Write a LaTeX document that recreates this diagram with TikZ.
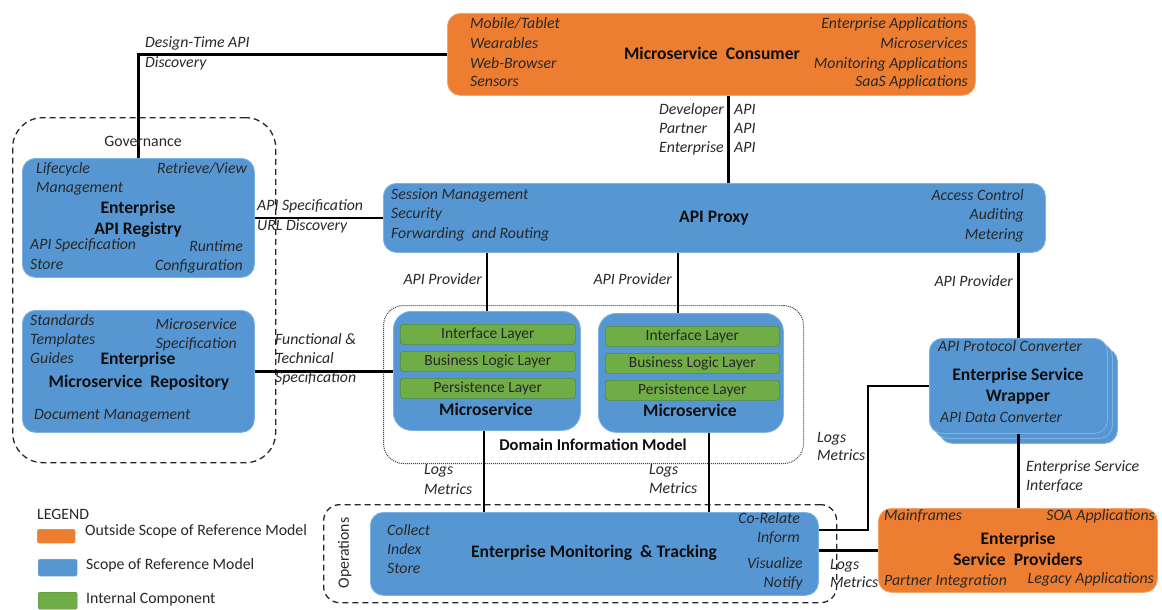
\documentclass[tikz,border=0pt]{standalone}
\usepackage{fontspec}
\setmainfont{Carlito}
\definecolor{orangeC}{RGB}{237,125,49}
\definecolor{orangeB}{RGB}{245,165,110}
\definecolor{blueC}{RGB}{86,151,211}
\definecolor{blueB}{RGB}{125,178,226}
\definecolor{greenC}{RGB}{112,173,71}
\definecolor{greenB}{RGB}{84,140,52}
\definecolor{txt}{RGB}{40,40,40}
\definecolor{ttxt}{RGB}{15,15,15}
\begin{document}
\begin{tikzpicture}[x=1pt,y=-1pt,
  obox/.style={draw=orangeB, line width=0.8pt, fill=orangeC, rounded corners=13pt, anchor=north west, inner sep=0pt},
  bbox/.style={draw=blueB, line width=0.8pt, fill=blueC, rounded corners=13pt, anchor=north west, inner sep=0pt},
  gbar/.style={draw=greenB, line width=0.6pt, fill=greenC, rounded corners=3pt, anchor=north west, inner sep=0pt,
     font=\fontsize{15.5}{17}\selectfont, text=txt, text height=10.5pt, text depth=3pt},
  grp/.style={draw=black!85, line width=1.3pt, dash pattern=on 6pt off 4pt, anchor=north west, inner sep=0pt},
  conn/.style={draw=black, line width=2.4pt},
  lab/.style={font=\fontsize{15.8}{19}\selectfont\itshape, text=txt, inner sep=0pt, text height=11pt, text depth=3.5pt},
  L/.style={lab, anchor=west},
  R/.style={lab, anchor=east},
  ttl/.style={font=\fontsize{17.6}{21}\selectfont\bfseries, text=ttxt, inner sep=0pt, text height=12pt, text depth=3.5pt},
  reg/.style={font=\fontsize{15.8}{19}\selectfont, text=txt, inner sep=0pt, text height=11pt, text depth=3.5pt},
]
\useasboundingbox (0,0) rectangle (1162,610);
\fill[white] (0,0) rectangle (1162,610);

% ---------- group boxes ----------
\node[grp, rounded corners=30pt, minimum width=263pt, minimum height=345pt] (gov) at (12,117) {};
\node[grp, rounded corners=16pt, minimum width=513pt, minimum height=98pt] (ops) at (323,504) {};
\node[draw=black!75, line width=1pt, densely dotted, rounded corners=20pt, anchor=north west, inner sep=0pt,
      minimum width=420pt, minimum height=158pt] (dom) at (383,305) {};

% ---------- main boxes ----------
\node[obox, minimum width=528pt, minimum height=82pt] (cons) at (447,13) {};
\node[bbox, minimum width=662pt, minimum height=69pt] (proxy) at (383,183) {};
\node[bbox, minimum width=232pt, minimum height=119pt] (reg) at (22,158) {};
\node[bbox, minimum width=232pt, minimum height=122pt] (repo) at (22,310) {};
\node[bbox, rounded corners=18pt, minimum width=187pt, minimum height=119pt] (ms1) at (393,311) {};
\node[bbox, rounded corners=18pt, minimum width=185pt, minimum height=119pt] (ms2) at (598,313) {};
\node[bbox, minimum width=448pt, minimum height=83pt] (mon) at (370,512) {};
\node[bbox, minimum width=178pt, minimum height=95pt] (eswb) at (939,348) {};
\node[bbox, minimum width=178pt, minimum height=95pt] (eswm) at (934,343) {};
\node[bbox, minimum width=178pt, minimum height=95pt] (esw) at (929,338) {};
\node[obox, minimum width=279pt, minimum height=84pt] (esp) at (878,508) {};

% ---------- green layers ----------
\node[gbar, minimum width=175pt, minimum height=20pt] (il1) at (400,324) {Interface Layer};
\node[gbar, minimum width=175pt, minimum height=20pt] (bl1) at (400,351) {Business Logic Layer};
\node[gbar, minimum width=175pt, minimum height=20pt] (pl1) at (400,378) {Persistence Layer};
\node[gbar, minimum width=174pt, minimum height=20pt] (il2) at (605,326) {Interface Layer};
\node[gbar, minimum width=174pt, minimum height=20pt] (bl2) at (605,353) {Business Logic Layer};
\node[gbar, minimum width=174pt, minimum height=20pt] (pl2) at (605,380) {Persistence Layer};

% ---------- connectors ----------
\coordinate (bend) at (868,0);
\draw[conn] (cons.west) -| (reg.north);
\draw[conn] ([xshift=17pt]cons.south) -- ([xshift=17pt]cons.south |- proxy.north);
\draw[conn] (reg.east) -- (reg.east -| proxy.west);
\draw[conn] (repo.east) -- (repo.east -| ms1.west);
\draw[conn] (ms1.north) -- (ms1.north |- proxy.south);
\draw[conn] ([xshift=-13pt]ms2.north) -- ([xshift=-13pt]ms2.north |- proxy.south);
\draw[conn] (esw.north) -- (esw.north |- proxy.south);
\draw[conn] ([xshift=-3pt]ms1.south) -- ([xshift=-3pt]ms1.south |- mon.north);
\draw[conn] ([xshift=18pt]ms2.south) -- ([xshift=18pt]ms2.south |- mon.north);
\draw[conn] (esw.south) -- (esw.south |- esp.north);
\draw[conn] ([yshift=24pt]mon.east) -| (bend |- esw.west) -- (esw.west);
\draw[conn] (esp.west -| mon.east) -- (esp.west);

% ---------- consumer ----------
\node[ttl] (consT) at (712,55) {Microservice\ \ Consumer};
\node[L] (c1) at (470,25) {Mobile/Tablet};
\node[L] (c2) at (470,45) {Wearables};
\node[L] (c3) at (470,65) {Web-Browser};
\node[L] (c4) at (470,83) {Sensors};
\node[R] (c5) at (968,25) {Enterprise Applications};
\node[R] (c6) at (968,45) {Microservices};
\node[R] (c7) at (968,65) {Monitoring Applications};
\node[R] (c8) at (968,83) {SaaS Applications};

\node[L] (d1) at (145,44) {Design-Time API};
\node[L] (d2) at (145,64) {Discovery};

\node[L] (k1) at (659,111) {Developer};
\node[L] (k2) at (659,130) {Partner};
\node[L] (k3) at (659,149) {Enterprise};
\node[L] (k4) at (734,111) {API};
\node[L] (k5) at (734,130) {API};
\node[L] (k6) at (734,149) {API};

% ---------- proxy ----------
\node[ttl] (proxyT) at (714,218) {API Proxy};
\node[L] (p1) at (391,196) {Session Management};
\node[L] (p2) at (391,215) {Security};
\node[L] (p3) at (391,235) {Forwarding\ \ and Routing};
\node[R] (p4) at (1024,197) {Access Control};
\node[R] (p5) at (1024,216) {Auditing};
\node[R] (p6) at (1024,236) {Metering};

% ---------- governance ----------
\node[reg] (govT) at (143,143) {Governance};
\node[L] (r1) at (36,170) {Lifecycle};
\node[L] (r2) at (36,189) {Management};
\node[R] (r3) at (247,170) {Retrieve/View};
\node[ttl] (regT1) at (138,209) {Enterprise};
\node[ttl] (regT2) at (138,230) {API Registry};
\node[L] (r4) at (30,246) {API Specification};
\node[L] (r5) at (30,266) {Store};
\node[R] (r6) at (243,248) {Runtime};
\node[R] (r7) at (243,267) {Configuration};

\node[L] (a1) at (257,207) {API Specification};
\node[L] (a2) at (257,227) {URL Discovery};

\node[L] (s1) at (30,322) {Standards};
\node[L] (s2) at (30,341) {Templates};
\node[L] (s3) at (30,360) {Guides};
\node[R] (s4) at (237,326) {Microservice};
\node[R] (s5) at (237,345) {Specification};
\node[ttl] (repoT1) at (138,360) {Enterprise};
\node[ttl] (repoT2) at (139,383) {Microservice\ \ Repository};
\node[L] (s6) at (34,416) {Document Management};

\node[L] (f1) at (275,341) {Functional \&};
\node[L] (f2) at (275,360) {Technical};
\node[L] (f3) at (275,379) {Specification};

% ---------- providers ----------
\node[R] (ap1) at (482,281) {API Provider};
\node[R] (ap2) at (672,281) {API Provider};
\node[R] (ap3) at (1013,283) {API Provider};

\node[ttl] (ms1T) at (486,411) {Microservice};
\node[ttl] (ms2T) at (690,412) {Microservice};
\node[ttl, font=\fontsize{16.5}{20}\selectfont\bfseries] (domT) at (593,446) {Domain Information Model};

% ---------- logs ----------
\node[L] (l1) at (424,471) {Logs};
\node[L] (l2) at (424,491) {Metrics};
\node[L] (l3) at (649,471) {Logs};
\node[L] (l4) at (649,490) {Metrics};
\node[L] (l5) at (817,439) {Logs};
\node[L] (l6) at (817,457) {Metrics};
\node[L] (l7) at (830,566) {Logs};
\node[L] (l8) at (830,584) {Metrics};

% ---------- monitoring ----------
\node[reg, rotate=90] (opsT) at (345,553) {Operations};
\node[ttl] (monT) at (594,553) {Enterprise Monitoring\ \ \& Tracking};
\node[L] (m1) at (387,532) {Collect};
\node[L] (m2) at (387,551) {Index};
\node[L] (m3) at (387,570) {Store};
\node[R] (m4) at (800,520) {Co-Relate};
\node[R] (m5) at (800,539) {Inform};
\node[R] (m6) at (803,565) {Visualize};
\node[R] (m7) at (803,584) {Notify};

% ---------- wrapper ----------
\node[L] (w1) at (938,348) {API Protocol Converter};
\node[ttl] (eswT1) at (1018,376) {Enterprise Service};
\node[ttl] (eswT2) at (1018,397) {Wrapper};
\node[L] (w2) at (940,419) {API Data Converter};

\node[L] (e1) at (1026,468) {Enterprise Service};
\node[L] (e2) at (1026,487) {Interface};

% ---------- service providers ----------
\node[L] (v1) at (884,517) {Mainframes};
\node[R] (v2) at (1155,517) {SOA Applications};
\node[ttl] (espT1) at (1018,540) {Enterprise};
\node[ttl] (espT2) at (1018,561) {Service\ \ Providers};
\node[L] (v3) at (884,582) {Partner Integration};
\node[R] (v4) at (1154,580) {Legacy Applications};

% ---------- legend ----------
\node[reg, anchor=west] (legT) at (37,516) {LEGEND};
\node[draw=orangeB, fill=orangeC, rounded corners=2pt, anchor=north west, inner sep=0pt, minimum width=38pt, minimum height=14pt] (lg1) at (37,529) {};
\node[draw=blueB, fill=blueC, rounded corners=2pt, anchor=north west, inner sep=0pt, minimum width=39pt, minimum height=17pt] (lg2) at (38,559) {};
\node[draw=greenB, fill=greenC, rounded corners=2pt, anchor=north west, inner sep=0pt, minimum width=39pt, minimum height=17pt] (lg3) at (38,592) {};
\node[reg, anchor=west] (lt1) at (85,532) {Outside Scope of Reference Model};
\node[reg, anchor=west] (lt2) at (86,566) {Scope of Reference Model};
\node[reg, anchor=west] (lt3) at (86,600) {Internal Component};
\end{tikzpicture}
\end{document}
